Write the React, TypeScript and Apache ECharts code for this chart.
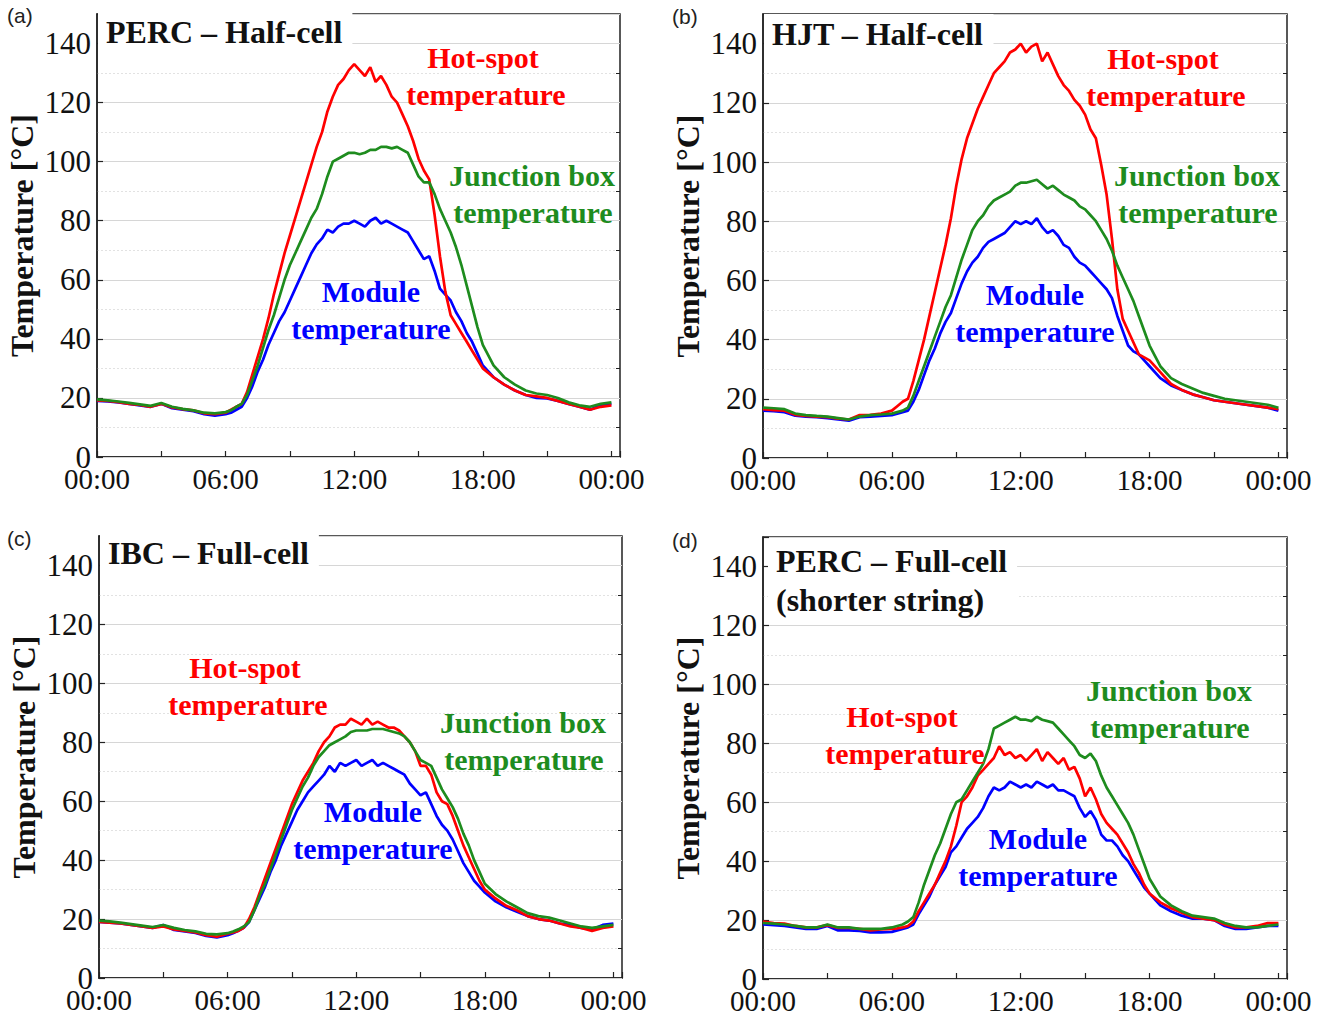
import React, { useEffect, useRef } from "react";
import * as echarts from "echarts";

// time of day in hours
const HOURS = [
  0, 0.5, 1, 1.5, 2, 2.5, 3, 3.5, 4, 4.5, 5, 5.5, 6,
  6.25, 6.5, 6.75, 7, 7.25, 7.5, 7.75, 8, 8.25, 8.5, 8.75, 9,
  9.25, 9.5, 9.75, 10, 10.25, 10.5, 10.75, 11, 11.25, 11.5, 11.75, 12,
  12.25, 12.5, 12.75, 13, 13.25, 13.5, 13.75, 14, 14.25, 14.5, 14.75, 15,
  15.25, 15.5, 15.75, 16, 16.25, 16.5, 16.75, 17, 17.25, 17.5, 17.75, 18,
  18.5, 19, 19.5, 20, 20.5, 21, 21.5, 22, 22.5, 23, 23.5, 24,
];

const X_TICKS = ["00:00", "06:00", "12:00", "18:00", "00:00"];
const Y_TICKS = [0, 20, 40, 60, 80, 100, 120, 140];

// (a) PERC – Half-cell
const A_HOTSPOT = [
  19.2, 19, 18.6, 18, 17.6, 17, 18, 16.8, 16.2, 15.8, 14.8, 14.5, 15,
  16, 17, 18, 22, 28, 34, 40, 47, 55, 62, 69, 75,
  81, 87, 93, 99, 105, 110, 117, 122, 126, 128, 131, 133,
  131, 129, 132, 127, 129, 126, 122, 120, 116, 112, 107, 101,
  97, 94, 82, 68, 56, 48, 45, 42, 39, 36, 33, 30,
  27, 24.5, 22.5, 21, 20.5, 20, 19, 18, 17, 16, 17, 17.5,
];
const A_JBOX = [
  19.5, 19.2, 18.8, 18.3, 17.8, 17.3, 18.3, 17, 16.3, 15.8, 15, 14.8, 15.2,
  15.8, 17, 18, 21, 26, 31, 37, 43, 48, 54, 60, 65,
  69, 73, 77, 81, 84, 89, 95, 100, 101, 102, 103, 103,
  102.5, 103, 104, 104, 105, 105, 104.5, 105, 104, 103, 99, 95,
  93, 93, 89, 84, 80, 76, 71, 65, 58, 51, 44, 38,
  31, 27, 24.5, 22.5, 21.5, 21, 20, 18.5, 17.5, 17, 18, 18.5,
];
const A_MODULE = [
  19, 18.8, 18.5, 18, 17.5, 17, 18, 16.5, 16, 15.5, 14.5, 14, 14.5,
  15, 16, 17, 20, 24, 29, 33, 38, 42, 46, 49, 53,
  57, 61, 65, 69, 72, 74, 77, 76, 78, 79, 79, 80,
  79, 78, 80, 81, 79, 80, 79, 78, 77, 76, 73, 70,
  67, 68, 63, 57, 55, 53, 49, 46, 42, 39, 35, 31,
  27, 24.5, 22.5, 21, 20, 19.8, 19, 18, 17, 16, 17.5, 18,
];

// (b) HJT – Half-cell
const B_HOTSPOT = [
  16.5, 16.2, 16, 14.6, 14.2, 14, 13.8, 13.3, 13, 14.5, 14.6, 15, 16,
  17.5, 19, 20, 26, 33, 40, 48, 56, 64, 72, 81, 92,
  101, 108, 113, 118, 122, 126, 130, 132, 134, 137, 138, 140,
  137, 139, 140, 134, 137, 133, 129, 126, 124, 121, 119, 116,
  111, 108, 99, 89, 74, 57, 47, 43, 39, 35, 34, 33,
  29, 25, 23, 21.5, 20.5, 19.5, 19, 18.5, 18, 17.5, 17, 16.5,
];
const B_JBOX = [
  17, 16.8, 16.5, 15, 14.5, 14.2, 14, 13.5, 13, 14, 14.5, 14.7, 15,
  15.5, 16, 17, 21, 26, 31, 36, 41, 46, 51, 55, 61,
  67, 72, 77, 80, 82, 85, 87, 88, 89, 90, 92, 93,
  93, 93.5, 94, 92.5, 91, 92, 90.5, 89, 88, 87, 85, 84,
  82, 80, 77, 74, 70, 65, 61, 57, 53, 48, 43, 38,
  31, 27, 25, 23.5, 22, 21, 20, 19.5, 19, 18.5, 18, 17,
];
const B_MODULE = [
  16, 15.8, 15.5, 14.3, 14, 13.8, 13.5, 13, 12.6, 13.8, 14, 14.2, 14.5,
  15, 15.5, 16, 19, 23, 28, 33, 37, 42, 46, 49, 54,
  59, 63, 66, 68, 71, 73, 74, 75, 76, 78, 80, 79,
  80, 79, 81, 78, 76, 77, 75, 72, 71, 68, 66, 65,
  63, 61, 59, 57, 54, 48, 43, 38, 36, 35, 33, 31,
  27, 24.5, 23, 21.5, 20.5, 19.5, 19, 18.5, 18, 17.5, 17, 16,
];

// (c) IBC – Full-cell
const C_HOTSPOT = [
  19, 18.8, 18.5, 18, 17.5, 17, 17.5, 16.5, 16, 15.5, 14.5, 14, 15,
  15.5, 16, 17, 20, 24, 29, 34, 39, 44, 49, 54, 59,
  63, 67, 70, 73, 77, 80, 82, 85, 86, 86, 88, 87,
  86, 88, 86, 87, 86, 85, 85, 84, 82, 80, 77, 72,
  72, 69, 63, 60, 59, 55, 50, 45, 41, 37, 33, 30,
  27, 24.5, 23, 21, 20, 19.5, 18.5, 17.5, 17, 16, 17, 17.5,
];
const C_JBOX = [
  19.5, 19.2, 18.8, 18.3, 17.8, 17.3, 18, 17, 16.3, 15.8, 15, 14.8, 15.2,
  15.8, 16.5, 17.5, 19, 23, 28, 32, 37, 42, 47, 52, 57,
  61, 65, 68, 72, 75, 77, 79, 80, 81, 82, 83.5, 84,
  84, 84, 84.5, 84.5, 84.5, 84, 83.5, 83, 82, 80, 77, 74,
  73, 72, 68, 64, 61, 58, 54, 49, 45, 40, 36, 32,
  28.5, 26, 24, 22, 21, 20.5, 19.5, 18.5, 17.5, 17, 17.5, 18,
];
const C_MODULE = [
  19, 18.8, 18.5, 18, 17.5, 17, 18, 16.3, 15.8, 15.3, 14.3, 13.8, 14.5,
  15.2, 16, 17, 19, 23, 27, 31, 36, 40, 45, 49, 53,
  57, 60, 63, 65, 67, 69, 72, 70, 73, 72, 73, 74,
  72, 73, 74, 72, 73, 72, 71, 70, 69, 66, 64, 62,
  63, 59, 55, 52, 50, 47, 43, 39, 36, 33, 31, 29,
  26, 24, 22.5, 21, 20, 19.5, 18.5, 18, 17, 16.5, 18, 18.5,
];

// (d) PERC – Full-cell (shorter string)
const D_HOTSPOT = [
  19.5, 19, 18.8, 18, 17.5, 17.5, 18.3, 17.3, 17.3, 17, 16.5, 16.8, 17,
  17.2, 17.5, 18, 19.5, 23, 26, 29, 32, 36, 40, 45, 52,
  60, 62, 65, 69, 71, 73, 75, 79, 76, 77, 75, 76,
  74, 76, 78, 74, 77, 75, 73, 75, 71, 72, 68, 62,
  65, 61, 56, 53, 51, 49, 46, 43, 39, 36, 32, 29,
  26, 24, 22.5, 21, 20.5, 20, 18.5, 17.5, 17.5, 18, 19, 19,
];
const D_JBOX = [
  19, 18.8, 18.5, 18, 17.5, 17.5, 18.5, 17.5, 17.5, 17, 17, 17, 17.5,
  18, 18.5, 19.5, 21, 26, 32, 37, 42, 46, 51, 56, 60,
  61, 64, 67, 70, 73, 78, 85, 86, 87, 88, 89, 88,
  88, 87.5, 89, 88, 87.5, 87, 85, 83, 81, 79, 76, 75,
  76.5, 74, 69, 65, 62, 59, 56, 53, 49, 44, 39, 34,
  28, 25, 23, 21.5, 21, 20.5, 19, 18, 17.5, 17.5, 18, 18.5,
];
const D_MODULE = [
  18.5, 18.3, 18, 17.5, 17, 17, 18, 16.5, 16.5, 16.3, 15.8, 15.8, 16,
  16.5, 17, 17.5, 18.5, 22, 25, 28, 32, 35, 38, 43, 45,
  48, 51, 53, 55, 58, 62, 65, 64, 65, 67, 66, 65,
  66, 65, 67, 66, 65, 66, 64, 64, 63, 62, 58, 55,
  57, 54, 49, 47, 47, 45, 42, 40, 37, 34, 31, 29,
  25, 23, 21.5, 20.5, 20.5, 20, 18, 17, 17, 17.5, 18, 18,
];

const PANEL_DATA = [
  { hot: A_HOTSPOT, jbox: A_JBOX, mod: A_MODULE },
  { hot: B_HOTSPOT, jbox: B_JBOX, mod: B_MODULE },
  { hot: C_HOTSPOT, jbox: C_JBOX, mod: C_MODULE },
  { hot: D_HOTSPOT, jbox: D_JBOX, mod: D_MODULE },
];

const PANEL_TITLES = [
  "PERC – Half-cell",
  "HJT – Half-cell",
  "IBC – Full-cell",
  "PERC – Full-cell\n(shorter string)",
];
const PANEL_LETTERS = ["(a)", "(b)", "(c)", "(d)"];

const SERIF = '"Liberation Serif", "Times New Roman", serif';
const RED = "#ff0000";
const GREEN = "#1e8c1e";
const BLUE = "#0000ff";
const INK = "#111111";

const GRIDS = [
  { left: 97, top: 14, width: 523, height: 443 },
  { left: 763, top: 14, width: 524, height: 444 },
  { left: 99, top: 536, width: 523, height: 442 },
  { left: 763, top: 537, width: 524, height: 442 },
];

const TITLE_POS = [
  { left: 98, top: 12 },
  { left: 764, top: 14 },
  { left: 100, top: 533 },
  { left: 768, top: 541 },
];
const LETTER_POS = [
  { left: 7, top: 5 },
  { left: 672, top: 6 },
  { left: 7, top: 528 },
  { left: 672, top: 530 },
];

// annotation label anchors [x, y] (centers), per panel: hot, jbox, module
const ANNOT = [
  { hot: [483, 57], jbox: [532, 175], mod: [371, 291] },
  { hot: [1163, 58], jbox: [1197, 175], mod: [1035, 294] },
  { hot: [245, 667], jbox: [523, 722], mod: [373, 811] },
  { hot: [902, 716], jbox: [1169, 690], mod: [1038, 838] },
];

function fmtX(v: number): string {
  if (Math.abs(v % 6) > 1e-6) return "";
  const idx = Math.round(v / 6);
  return X_TICKS[idx] ?? "";
}

export default function App() {
  const ref = useRef<HTMLDivElement>(null);

  useEffect(() => {
    document.body.style.margin = "0";
    if (!ref.current) return;
    const chart = echarts.init(ref.current, undefined, { renderer: "svg" });

    const grid = GRIDS.map((g) => ({
      ...g,
      show: true,
      borderColor: "#222",
      borderWidth: 1.5,
      backgroundColor: "#fff",
    }));

    const xAxis = GRIDS.map((_, i) => ({
      type: "value",
      gridIndex: i,
      min: 0,
      max: 24.4,
      interval: 3,
      axisLine: { show: true, lineStyle: { color: "#222", width: 1.5 } },
      axisTick: { show: true, inside: true, length: 6, lineStyle: { color: "#222", width: 1.2 } },
      splitLine: { show: false },
      axisLabel: {
        formatter: fmtX,
        fontFamily: SERIF,
        fontSize: 29,
        color: INK,
        margin: 7,
      },
    }));

    const yAxis: any[] = [];
    GRIDS.forEach((_, i) => {
      yAxis.push({
        type: "value",
        gridIndex: i,
        min: 0,
        max: 150,
        interval: 20,
        axisLine: { show: true, lineStyle: { color: "#222", width: 1.5 } },
        axisTick: { show: true, inside: true, length: 6, lineStyle: { color: "#222", width: 1.2 } },
        splitLine: { show: true, lineStyle: { color: "#d6d6d6", width: 1 } },
        axisLabel: {
          formatter: (v: number) => (Y_TICKS.includes(v) ? String(v) : ""),
          fontFamily: SERIF,
          fontSize: 31,
          color: INK,
          margin: 6,
        },
        name: "Temperature [°C]",
        nameLocation: "middle",
        nameGap: 59,
        nameTextStyle: { fontFamily: SERIF, fontWeight: "bold", fontSize: 32, color: INK },
        z: 3,
      });
      yAxis.push({
        type: "value",
        gridIndex: i,
        min: 0,
        max: 150,
        interval: 10,
        axisLine: { show: false },
        axisTick: { show: true, inside: true, length: 4, lineStyle: { color: "#222", width: 1 } },
        splitLine: { show: true, lineStyle: { color: "#e2e2e2", width: 1, type: [2, 2] } },
        axisLabel: { show: false },
        z: 2,
      });
    });

    const series: any[] = [];
    PANEL_DATA.forEach((p, i) => {
      const mk = (name: string, arr: number[], color: string, z: number) => ({
        type: "line",
        name,
        xAxisIndex: i,
        yAxisIndex: i * 2,
        data: HOURS.map((h, k) => [h, arr[k]]),
        showSymbol: false,
        symbol: "none",
        lineStyle: { color, width: 2.7 },
        itemStyle: { color },
        z,
        silent: true,
      });
      series.push(mk("Module temperature", p.mod, BLUE, 3));
      series.push(mk("Hot-spot temperature", p.hot, RED, 4));
      series.push(mk("Junction box temperature", p.jbox, GREEN, 5));
    });

    const title: any[] = [];
    PANEL_TITLES.forEach((t, i) => {
      title.push({
        text: t,
        left: TITLE_POS[i].left,
        top: TITLE_POS[i].top,
        backgroundColor: "#fff",
        padding: [0, 10, 0, 8],
        textStyle: {
          fontFamily: SERIF,
          fontWeight: "bold",
          fontSize: 32,
          color: INK,
          lineHeight: 39,
        },
      });
      title.push({
        text: PANEL_LETTERS[i],
        left: LETTER_POS[i].left,
        top: LETTER_POS[i].top,
        padding: 0,
        textStyle: {
          fontFamily: '"Liberation Sans", Arial, sans-serif',
          fontWeight: "normal",
          fontSize: 21,
          color: "#222",
        },
      });
    });

    const graphic: any[] = [];
    const label = (x: number, y: number, text: string, color: string) => ({
      type: "text",
      x,
      y,
      z: 20,
      style: {
        text,
        fill: color,
        font: `bold 30px ${SERIF}`,
        textAlign: "center",
        textVerticalAlign: "middle",
      },
    });
    ANNOT.forEach((a) => {
      graphic.push(label(a.hot[0], a.hot[1], "Hot-spot", RED));
      graphic.push(label(a.hot[0] + 3, a.hot[1] + 37, "temperature", RED));
      graphic.push(label(a.jbox[0], a.jbox[1], "Junction box", GREEN));
      graphic.push(label(a.jbox[0] + 1, a.jbox[1] + 37, "temperature", GREEN));
      graphic.push(label(a.mod[0], a.mod[1], "Module", BLUE));
      graphic.push(label(a.mod[0], a.mod[1] + 37, "temperature", BLUE));
    });

    chart.setOption({
      animation: false,
      backgroundColor: "#fff",
      title,
      grid,
      xAxis,
      yAxis,
      series,
      graphic,
    });

    return () => chart.dispose();
  }, []);

  return <div ref={ref} style={{ width: 1327, height: 1017 }} />;
}
